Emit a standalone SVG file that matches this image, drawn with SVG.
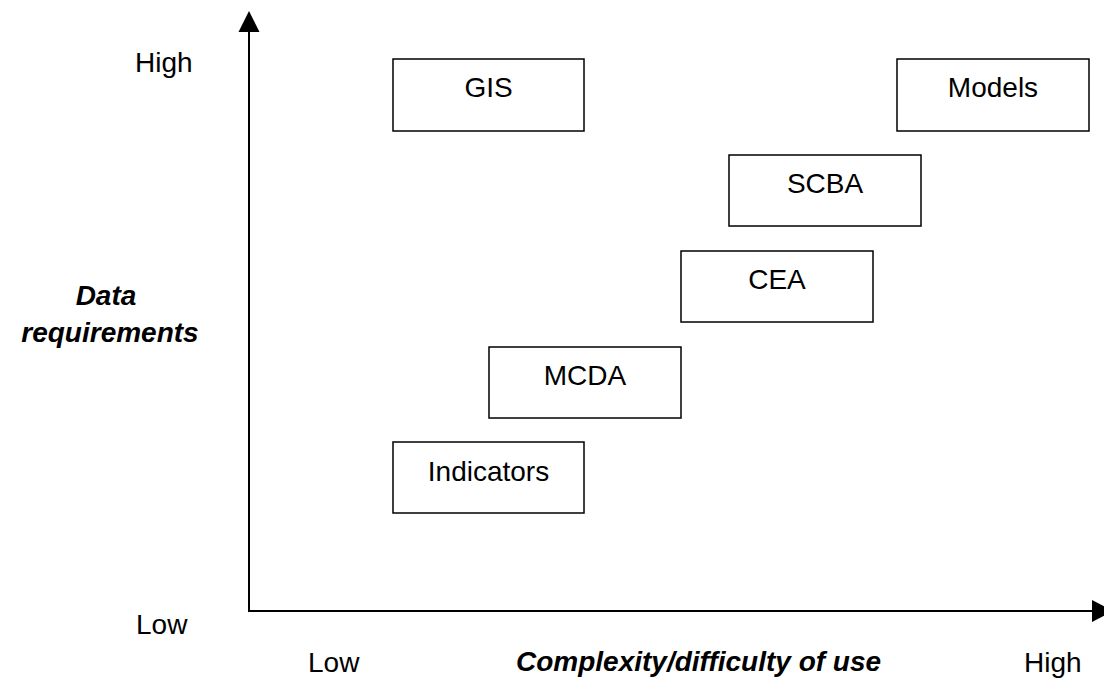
<svg xmlns="http://www.w3.org/2000/svg" width="1104" height="680" viewBox="0 0 1104 680">
<style>
.box{fill:#fff;stroke:#000;stroke-width:1.5}
.t{font-family:"Liberation Sans",Arial,sans-serif;font-size:28px;fill:#000}
.c{text-anchor:middle}
.bi{font-weight:bold;font-style:italic}
.axis{stroke:#000;stroke-width:2;fill:none}
</style>
<rect width="1104" height="680" fill="#fff"/>
<g id="axes">
<line class="axis" x1="249" y1="611" x2="249" y2="30"/>
<line class="axis" x1="248" y1="611" x2="1094" y2="611"/>
<polygon points="249,11 238.5,32 259.5,32" fill="#000"/>
<polygon points="1113,611 1092,600 1092,622" fill="#000"/>
</g>
<g id="axis-labels">
<text class="t" x="135" y="72">High</text>
<text class="t" x="136" y="634">Low</text>
<text class="t bi c" x="106" y="305">Data</text>
<text class="t bi c" x="110" y="342">requirements</text>
<text class="t" x="308" y="672">Low</text>
<text class="t bi" x="516" y="671">Complexity/difficulty of use</text>
<text class="t" x="1024" y="672">High</text>
</g>
<g id="node-gis"><rect class="box" x="393" y="59" width="191" height="72"/><text class="t c" x="488.5" y="97">GIS</text></g>
<g id="node-models"><rect class="box" x="897" y="59" width="192" height="72"/><text class="t c" x="993" y="97">Models</text></g>
<g id="node-scba"><rect class="box" x="729" y="155" width="192" height="71"/><text class="t c" x="825" y="193">SCBA</text></g>
<g id="node-cea"><rect class="box" x="681" y="251" width="192" height="71"/><text class="t c" x="777" y="289">CEA</text></g>
<g id="node-mcda"><rect class="box" x="489" y="347" width="192" height="71"/><text class="t c" x="585" y="385">MCDA</text></g>
<g id="node-indicators"><rect class="box" x="393" y="442" width="191" height="71"/><text class="t c" x="488.5" y="481">Indicators</text></g>
</svg>
